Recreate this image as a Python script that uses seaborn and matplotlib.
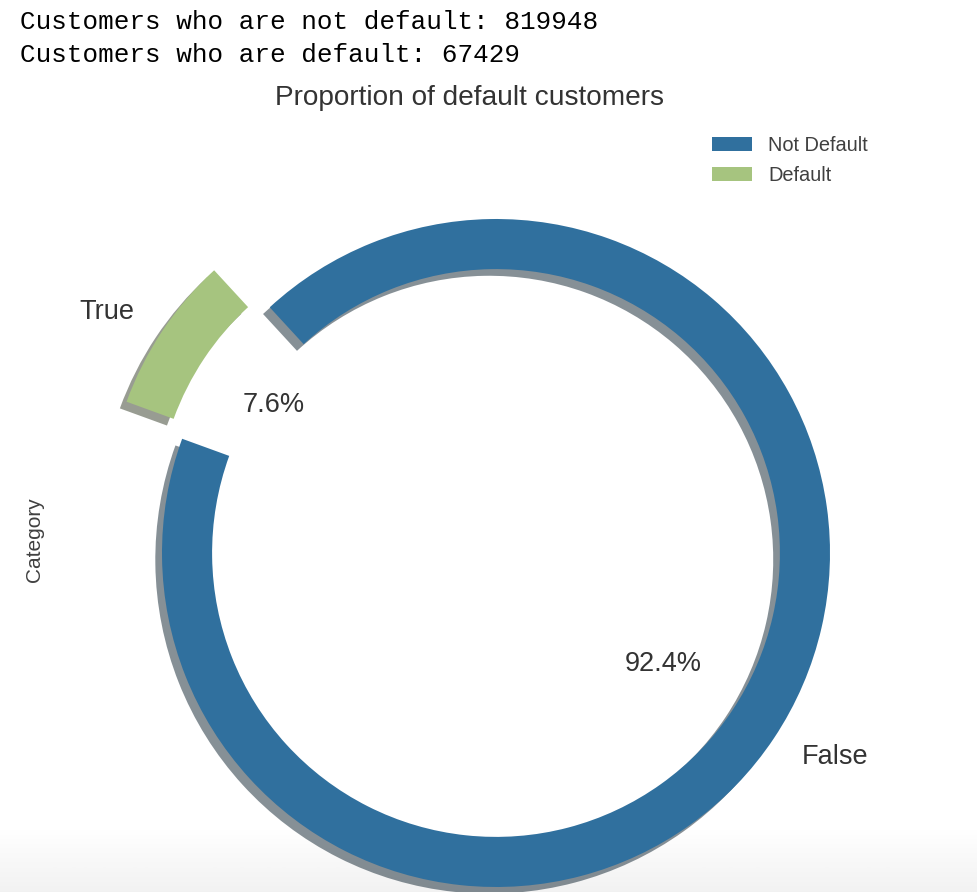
import numpy as np
import matplotlib
matplotlib.use("Agg")
import matplotlib.pyplot as plt
import seaborn as sns

# ---- data ----
categories = ["False", "True"]
counts = [819948, 67429]
legend_labels = ["Not Default", "Default"]
colors = ["#30709e", "#a6c47f"]
explode = [0, 0.2]

sns.set_style("white")
plt.rcParams["font.family"] = ["Liberation Sans", "DejaVu Sans"]

W, H = 978, 892
fig = plt.figure(figsize=(W / 100, H / 100), dpi=100)

# bottom shading of the screenshot (behind everything)
gax = fig.add_axes([0, 0, 1, 64 / H], zorder=0)
grad = np.linspace(0, 1, 100).reshape(-1, 1)
gax.imshow(grad, aspect="auto", cmap="Greys", vmin=0, vmax=9,
           extent=[0, 1, 0, 1], origin="upper")
gax.set_axis_off()

# printed output lines above the chart
mono = ["Liberation Mono", "DejaVu Sans Mono"]
fig.text(20 / W, 1 - 22 / H, f"Customers who are not default: {counts[0]}",
         family=mono, fontsize=18.75, color="black", va="center", ha="left")
fig.text(20 / W, 1 - 55 / H, f"Customers who are default: {counts[1]}",
         family=mono, fontsize=18.75, color="black", va="center", ha="left")

# axes geometry (pixels): pie centre and radius
cx, cy, R = 496, 553, 334
left_px, right_px, top_px, bot_px = 50, 940, 122, 892
ax = fig.add_axes([left_px / W, 1 - bot_px / H,
                   (right_px - left_px) / W, (bot_px - top_px) / H], zorder=1)
ax.patch.set_visible(False)

sh = 0.02 * 72 / 100
wedges, texts, autotexts = ax.pie(
    counts, labels=categories, colors=colors, explode=explode,
    startangle=160, shadow={"ox": -sh, "oy": -sh},
    autopct="%1.1f%%", pctdistance=0.6, labeldistance=1.1,
    wedgeprops=dict(width=0.15, linewidth=0),
    textprops=dict(fontsize=19.5, color=".2"))

ax.set_aspect("auto")
ax.set_xlim((left_px - cx) / R, (right_px - cx) / R)
ax.set_ylim((cy - bot_px) / R, (cy - top_px) / R)
ax.axis("on")
for s in ax.spines.values():
    s.set_visible(False)
ax.set_xticks([])
ax.set_yticks([])
ax.set_ylabel("Category", fontsize=15, color=".25")
ax.yaxis.set_label_coords((44 - left_px) / (right_px - left_px),
                          (bot_px - 540) / (bot_px - top_px))

fig.text(470 / W, 1 - 98 / H, "Proportion of default customers",
         fontsize=20.2, color=".2", ha="center", va="center")

ax.legend(wedges, legend_labels, loc="upper left", frameon=False,
          fontsize=14.4, bbox_to_anchor=(704 / W, 1 - 128 / H),
          bbox_transform=fig.transFigure, borderaxespad=0,
          labelspacing=0.55, labelcolor=".25")

fig.savefig("out.png", dpi=100)
